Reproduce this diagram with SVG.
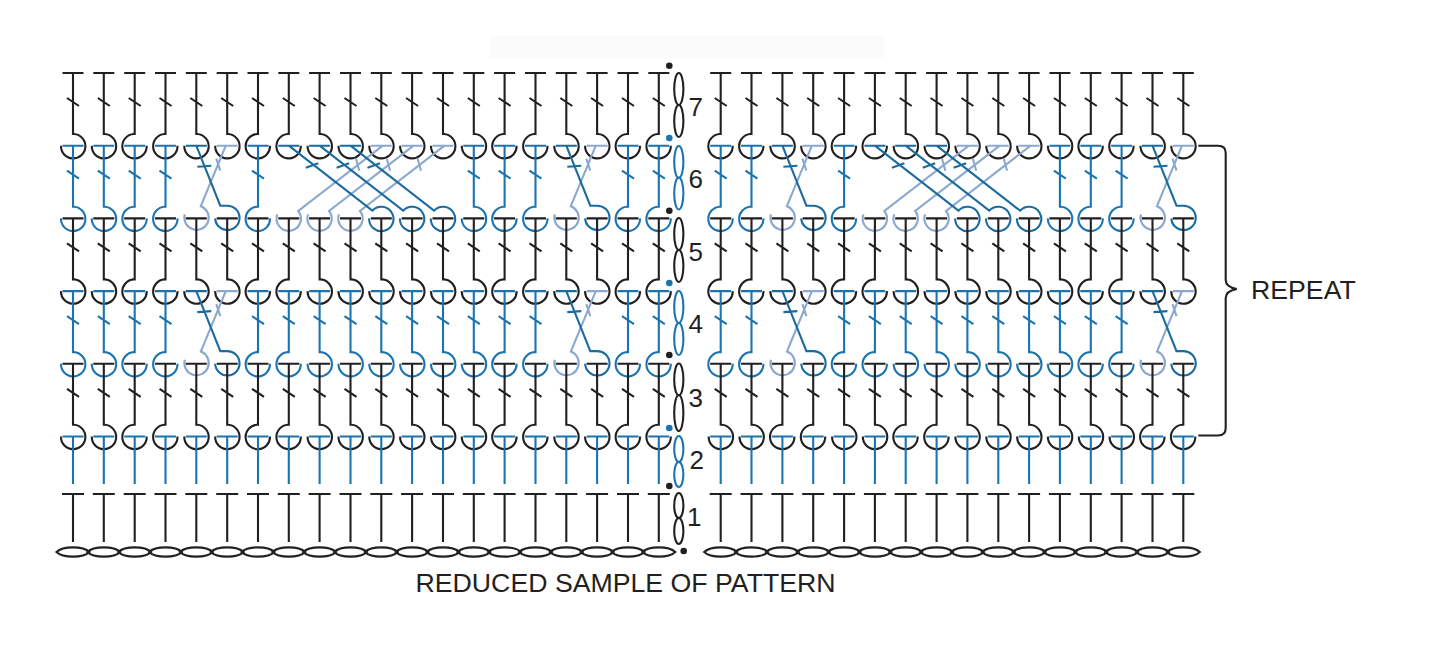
<svg xmlns="http://www.w3.org/2000/svg" width="1434" height="672" viewBox="0 0 1434 672">
<style>
path,ellipse{fill:none;stroke-width:2.1}
.k{stroke:#231f20}.b{stroke:#1b74b0}.d{stroke:#1a6b9e}.l{stroke:#8ba8cf}
.t{font-family:"Liberation Sans",Arial,sans-serif;font-size:26px;fill:#231f20}
.u{font-size:26.7px}
</style>
<defs>
<path id="R" d="M-10.5 0H10.5M0 0V61H1A12.2 12.2 0 1 1-12 72.7M-6 25L6 33"/>
<path id="L" d="M-10.5 0H10.5M0 0V61H-1A12.2 12.2 0 1 0 12 72.7M-6 25L6 33"/>
<path id="xd" d="M-10.5 0H10.5M0 0L24 60H30.85A12.2 12.2 0 1 1 18.85 72.7M1 21L15 20"/>
<path id="xl" d="M20.35 0H41.35M29.5 0L4.5 60.5A12.2 12.2 0 1 1-11.5 68.7M20 13L24 25"/>
<path id="cd" d="M-10.5 0H10.5M0 0L83.5 65A12.2 12.2 0 1 1 80.3 72.7M17 22L29.5 17.6"/>
<path id="cl" d="M82 0H103M94 0L9.5 65.3A12.2 12.2 0 1 1-11.5 68.7M67 12.6L70.5 25"/>
<path id="s2" d="M-10.5 0H10.5M0 0V47.5"/>
<path id="s1" d="M-11 0H11M0 0V48"/>
<path id="c" d="M-16.5 0C-10 -6.2 10 -6.2 16.5 0C10 6.2 -10 6.2 -16.5 0Z"/>
</defs>
<rect id="band" x="490" y="36" width="394" height="22" fill="#fbfbfb"/>
<g id="row7" class="k" transform="translate(0,73)">
<use href="#R" x="73"/><use href="#R" x="103.8"/><use href="#L" x="134.7"/><use href="#L" x="165.5"/><use href="#R" x="196.3"/><use href="#R" x="227.2"/><use href="#L" x="258"/><use href="#L" x="288.8"/><use href="#R" x="319.6"/><use href="#R" x="350.5"/><use href="#R" x="381.3"/><use href="#R" x="412.1"/><use href="#R" x="443"/><use href="#R" x="473.8"/><use href="#L" x="504.6"/><use href="#L" x="535.5"/><use href="#R" x="566.3"/><use href="#R" x="597.1"/><use href="#L" x="628"/><use href="#L" x="658.8"/>
<use href="#L" x="720.7"/><use href="#L" x="751.5"/><use href="#R" x="782.4"/><use href="#R" x="813.2"/><use href="#L" x="844.1"/><use href="#L" x="874.9"/><use href="#R" x="905.7"/><use href="#R" x="936.6"/><use href="#R" x="967.4"/><use href="#R" x="998.3"/><use href="#R" x="1029.1"/><use href="#R" x="1059.9"/><use href="#L" x="1090.8"/><use href="#L" x="1121.6"/><use href="#R" x="1152.5"/><use href="#R" x="1183.3"/>
</g>
<g id="row6" class="b" transform="translate(0,145.7)">
<use href="#R" x="73"/><use href="#R" x="103.8"/><use href="#L" x="134.7"/><use href="#L" x="165.5"/><use href="#L" x="258"/><use href="#R" x="473.8"/><use href="#L" x="504.6"/><use href="#L" x="535.5"/><use href="#L" x="628"/><use href="#L" x="658.8"/>
<use href="#L" x="720.7"/><use href="#L" x="751.5"/><use href="#L" x="844.1"/><use href="#R" x="1059.9"/><use href="#L" x="1090.8"/><use href="#L" x="1121.6"/>
<g class="l"><use href="#xl" x="196.3"/><use href="#xl" x="566.3"/><use href="#xl" x="782.4"/><use href="#xl" x="1152.5"/><use href="#cl" x="288.8"/><use href="#cl" x="319.6"/><use href="#cl" x="350.5"/><use href="#cl" x="874.9"/><use href="#cl" x="905.7"/><use href="#cl" x="936.6"/></g>
<g class="d"><use href="#xd" x="196.3"/><use href="#xd" x="566.3"/><use href="#xd" x="782.4"/><use href="#xd" x="1152.5"/><use href="#cd" x="288.8"/><use href="#cd" x="319.6"/><use href="#cd" x="350.5"/><use href="#cd" x="874.9"/><use href="#cd" x="905.7"/><use href="#cd" x="936.6"/></g>
</g>
<g id="row5" class="k" transform="translate(0,218.4)">
<use href="#R" x="73"/><use href="#R" x="103.8"/><use href="#L" x="134.7"/><use href="#L" x="165.5"/><use href="#R" x="196.3"/><use href="#R" x="227.2"/><use href="#L" x="258"/><use href="#L" x="288.8"/><use href="#R" x="319.6"/><use href="#R" x="350.5"/><use href="#R" x="381.3"/><use href="#R" x="412.1"/><use href="#R" x="443"/><use href="#R" x="473.8"/><use href="#L" x="504.6"/><use href="#L" x="535.5"/><use href="#R" x="566.3"/><use href="#R" x="597.1"/><use href="#L" x="628"/><use href="#L" x="658.8"/>
<use href="#L" x="720.7"/><use href="#L" x="751.5"/><use href="#R" x="782.4"/><use href="#R" x="813.2"/><use href="#L" x="844.1"/><use href="#L" x="874.9"/><use href="#R" x="905.7"/><use href="#R" x="936.6"/><use href="#R" x="967.4"/><use href="#R" x="998.3"/><use href="#R" x="1029.1"/><use href="#R" x="1059.9"/><use href="#L" x="1090.8"/><use href="#L" x="1121.6"/><use href="#R" x="1152.5"/><use href="#R" x="1183.3"/>
</g>
<g id="row4" class="b" transform="translate(0,291.1)">
<use href="#R" x="73"/><use href="#R" x="103.8"/><use href="#L" x="134.7"/><use href="#L" x="165.5"/><use href="#L" x="258"/><use href="#L" x="288.8"/><use href="#R" x="319.6"/><use href="#R" x="350.5"/><use href="#R" x="381.3"/><use href="#R" x="412.1"/><use href="#R" x="443"/><use href="#R" x="473.8"/><use href="#L" x="504.6"/><use href="#L" x="535.5"/><use href="#L" x="628"/><use href="#L" x="658.8"/>
<use href="#L" x="720.7"/><use href="#L" x="751.5"/><use href="#L" x="844.1"/><use href="#L" x="874.9"/><use href="#R" x="905.7"/><use href="#R" x="936.6"/><use href="#R" x="967.4"/><use href="#R" x="998.3"/><use href="#R" x="1029.1"/><use href="#R" x="1059.9"/><use href="#L" x="1090.8"/><use href="#L" x="1121.6"/>
<g class="l"><use href="#xl" x="196.3"/><use href="#xl" x="566.3"/><use href="#xl" x="782.4"/><use href="#xl" x="1152.5"/></g>
<g class="d"><use href="#xd" x="196.3"/><use href="#xd" x="566.3"/><use href="#xd" x="782.4"/><use href="#xd" x="1152.5"/></g>
</g>
<g id="row3" class="k" transform="translate(0,363.8)">
<use href="#R" x="73"/><use href="#R" x="103.8"/><use href="#L" x="134.7"/><use href="#L" x="165.5"/><use href="#R" x="196.3"/><use href="#R" x="227.2"/><use href="#L" x="258"/><use href="#L" x="288.8"/><use href="#R" x="319.6"/><use href="#R" x="350.5"/><use href="#R" x="381.3"/><use href="#R" x="412.1"/><use href="#R" x="443"/><use href="#R" x="473.8"/><use href="#L" x="504.6"/><use href="#L" x="535.5"/><use href="#R" x="566.3"/><use href="#R" x="597.1"/><use href="#L" x="628"/><use href="#L" x="658.8"/>
<use href="#R" x="720.7"/><use href="#R" x="751.5"/><use href="#L" x="782.4"/><use href="#L" x="813.2"/><use href="#R" x="844.1"/><use href="#R" x="874.9"/><use href="#L" x="905.7"/><use href="#L" x="936.6"/><use href="#R" x="967.4"/><use href="#R" x="998.3"/><use href="#R" x="1029.1"/><use href="#R" x="1059.9"/><use href="#R" x="1090.8"/><use href="#R" x="1121.6"/><use href="#L" x="1152.5"/><use href="#L" x="1183.3"/>
</g>
<g id="row2" class="b" transform="translate(0,436.5)">
<use href="#s2" x="73"/><use href="#s2" x="103.8"/><use href="#s2" x="134.7"/><use href="#s2" x="165.5"/><use href="#s2" x="196.3"/><use href="#s2" x="227.2"/><use href="#s2" x="258"/><use href="#s2" x="288.8"/><use href="#s2" x="319.6"/><use href="#s2" x="350.5"/><use href="#s2" x="381.3"/><use href="#s2" x="412.1"/><use href="#s2" x="443"/><use href="#s2" x="473.8"/><use href="#s2" x="504.6"/><use href="#s2" x="535.5"/><use href="#s2" x="566.3"/><use href="#s2" x="597.1"/><use href="#s2" x="628"/><use href="#s2" x="658.8"/>
<use href="#s2" x="720.7"/><use href="#s2" x="751.5"/><use href="#s2" x="782.4"/><use href="#s2" x="813.2"/><use href="#s2" x="844.1"/><use href="#s2" x="874.9"/><use href="#s2" x="905.7"/><use href="#s2" x="936.6"/><use href="#s2" x="967.4"/><use href="#s2" x="998.3"/><use href="#s2" x="1029.1"/><use href="#s2" x="1059.9"/><use href="#s2" x="1090.8"/><use href="#s2" x="1121.6"/><use href="#s2" x="1152.5"/><use href="#s2" x="1183.3"/>
</g>
<g id="row1" class="k" transform="translate(0,494)">
<use href="#s1" x="73"/><use href="#s1" x="103.8"/><use href="#s1" x="134.7"/><use href="#s1" x="165.5"/><use href="#s1" x="196.3"/><use href="#s1" x="227.2"/><use href="#s1" x="258"/><use href="#s1" x="288.8"/><use href="#s1" x="319.6"/><use href="#s1" x="350.5"/><use href="#s1" x="381.3"/><use href="#s1" x="412.1"/><use href="#s1" x="443"/><use href="#s1" x="473.8"/><use href="#s1" x="504.6"/><use href="#s1" x="535.5"/><use href="#s1" x="566.3"/><use href="#s1" x="597.1"/><use href="#s1" x="628"/><use href="#s1" x="658.8"/>
<use href="#s1" x="720.7"/><use href="#s1" x="751.5"/><use href="#s1" x="782.4"/><use href="#s1" x="813.2"/><use href="#s1" x="844.1"/><use href="#s1" x="874.9"/><use href="#s1" x="905.7"/><use href="#s1" x="936.6"/><use href="#s1" x="967.4"/><use href="#s1" x="998.3"/><use href="#s1" x="1029.1"/><use href="#s1" x="1059.9"/><use href="#s1" x="1090.8"/><use href="#s1" x="1121.6"/><use href="#s1" x="1152.5"/><use href="#s1" x="1183.3"/>
</g>
<g id="chain" class="k" transform="translate(0,552)">
<use href="#c" x="73"/><use href="#c" x="103.8"/><use href="#c" x="134.7"/><use href="#c" x="165.5"/><use href="#c" x="196.3"/><use href="#c" x="227.2"/><use href="#c" x="258"/><use href="#c" x="288.8"/><use href="#c" x="319.6"/><use href="#c" x="350.5"/><use href="#c" x="381.3"/><use href="#c" x="412.1"/><use href="#c" x="443"/><use href="#c" x="473.8"/><use href="#c" x="504.6"/><use href="#c" x="535.5"/><use href="#c" x="566.3"/><use href="#c" x="597.1"/><use href="#c" x="628"/><use href="#c" x="658.8"/>
<use href="#c" x="720.7"/><use href="#c" x="751.5"/><use href="#c" x="782.4"/><use href="#c" x="813.2"/><use href="#c" x="844.1"/><use href="#c" x="874.9"/><use href="#c" x="905.7"/><use href="#c" x="936.6"/><use href="#c" x="967.4"/><use href="#c" x="998.3"/><use href="#c" x="1029.1"/><use href="#c" x="1059.9"/><use href="#c" x="1090.8"/><use href="#c" x="1121.6"/><use href="#c" x="1152.5"/><use href="#c" x="1183.3"/>
</g>
<g id="turning-chains">
<g class="k"><ellipse cx="678.8" cy="89" rx="4.6" ry="16"/><ellipse cx="678.8" cy="121" rx="4.6" ry="16"/></g>
<g class="b"><ellipse cx="678.8" cy="162" rx="4.6" ry="16"/><ellipse cx="678.8" cy="193.5" rx="4.6" ry="16"/></g>
<g class="k"><ellipse cx="678.8" cy="234" rx="4.6" ry="16"/><ellipse cx="678.8" cy="266" rx="4.6" ry="16"/></g>
<g class="b"><ellipse cx="678.8" cy="307" rx="4.6" ry="16"/><ellipse cx="678.8" cy="339" rx="4.6" ry="16"/></g>
<g class="k"><ellipse cx="678.8" cy="379.5" rx="4.6" ry="16"/><ellipse cx="678.8" cy="413" rx="4.6" ry="18"/></g>
<g class="b"><ellipse cx="678.8" cy="449" rx="4.6" ry="13"/><ellipse cx="678.8" cy="474.5" rx="4.6" ry="12.5"/></g>
<g class="k"><ellipse cx="678.8" cy="505.5" rx="4.6" ry="12.5"/><ellipse cx="678.8" cy="531" rx="4.6" ry="13"/></g>
</g>
<g id="dots">
<circle cx="669.3" cy="65.7" r="3.3" fill="#231f20"/><circle cx="669.3" cy="138" r="3.3" fill="#1b74b0"/><circle cx="669.3" cy="210.7" r="3.3" fill="#231f20"/><circle cx="669.3" cy="283" r="3.3" fill="#1b74b0"/><circle cx="669.3" cy="355" r="3.3" fill="#231f20"/><circle cx="669.3" cy="428" r="3.3" fill="#1b74b0"/><circle cx="669.3" cy="486" r="3.3" fill="#231f20"/><circle cx="683.7" cy="551" r="3.3" fill="#231f20"/>
</g>
<g id="row-numbers" class="t">
<text x="688.5" y="116">7</text><text x="688.5" y="188">6</text><text x="688.5" y="261">5</text><text x="688.5" y="333">4</text><text x="688.5" y="407">3</text><text x="689.5" y="469">2</text><text x="687" y="526">1</text>
</g>
<g id="repeat-brace">
<path class="k" d="M1198.3 145.7H1218Q1225.7 145.7 1225.7 153V280Q1225.7 287 1236.7 289Q1225.7 291 1225.7 298V428Q1225.7 435.5 1218 435.5H1198.3"/>
<text class="t u" x="1251" y="299">REPEAT</text>
</g>
<text id="caption" class="t u" x="415.5" y="592">REDUCED SAMPLE OF PATTERN</text>
</svg>
